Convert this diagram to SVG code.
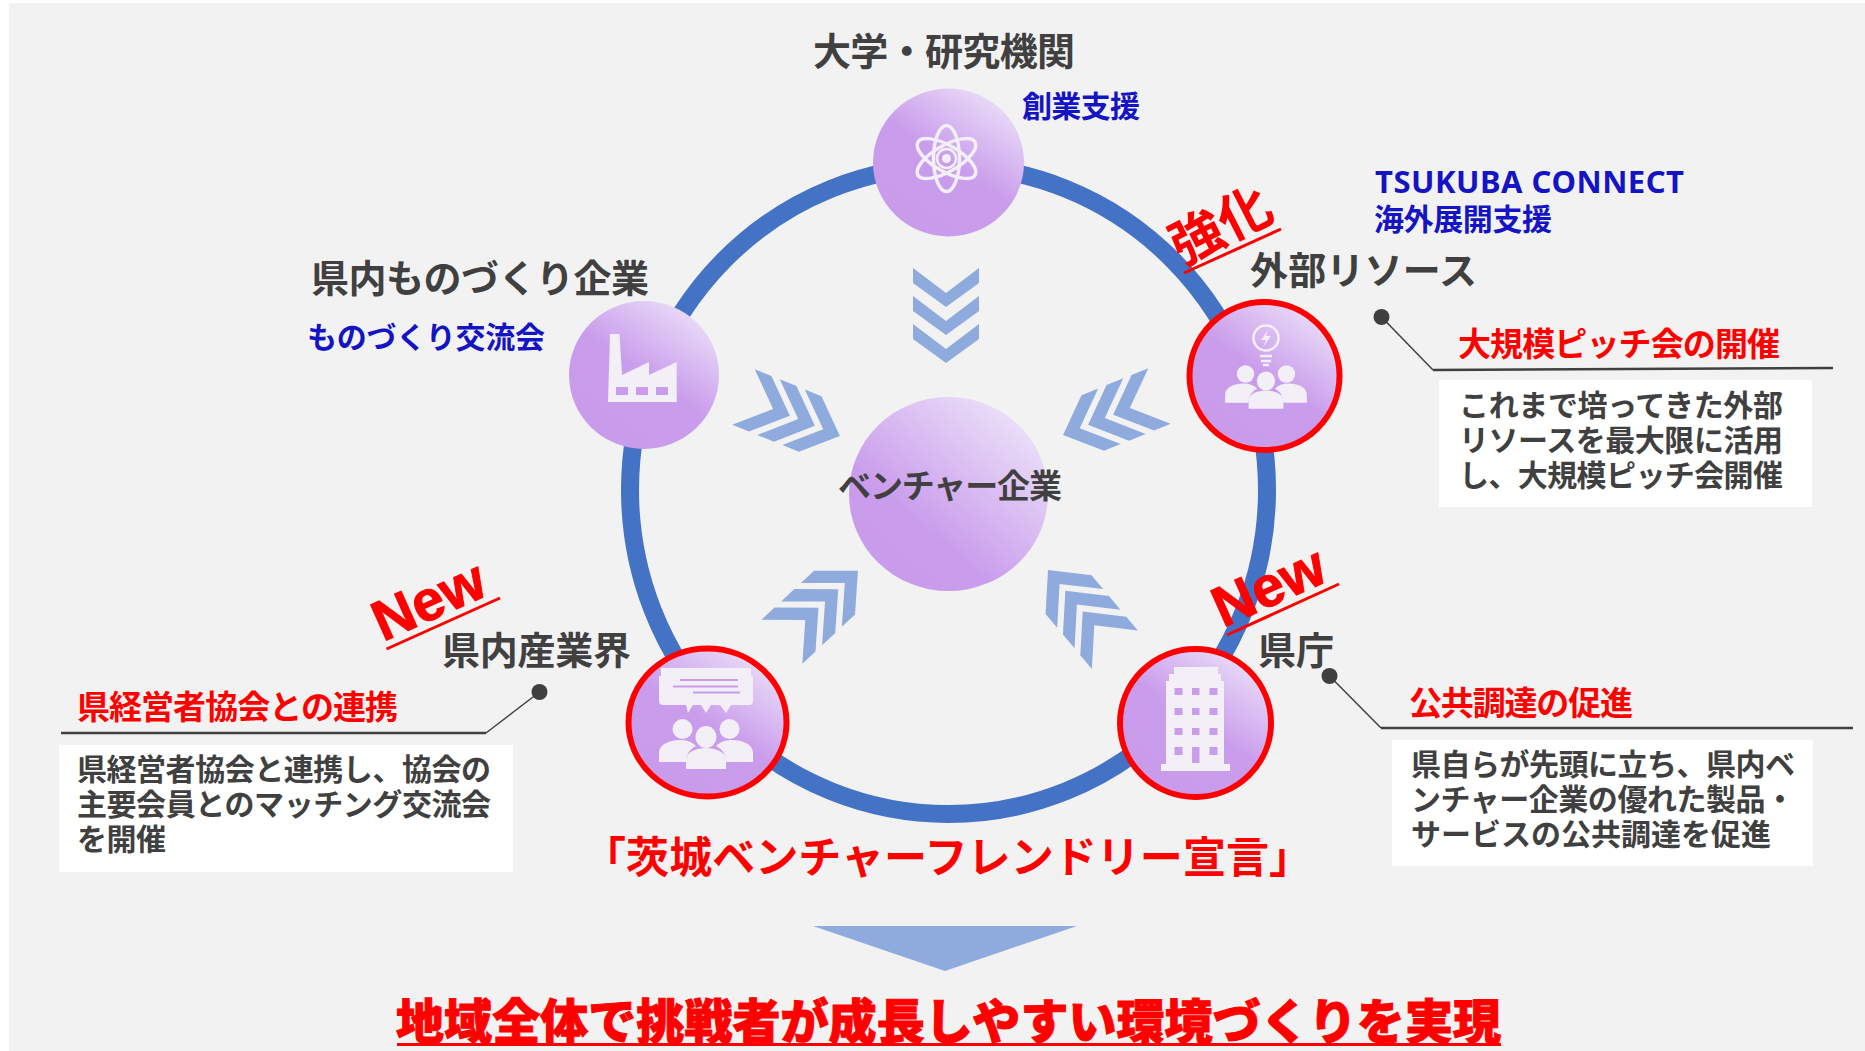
<svg xmlns="http://www.w3.org/2000/svg" xmlns:xlink="http://www.w3.org/1999/xlink" width="1865" height="1051" viewBox="0 0 1865 1051">
<style>
text{font-family:"Noto Sans CJK JP","Noto Sans",sans-serif;font-weight:700}
.dk{fill:#404040}
.bl{fill:#1414C4}
.rd{fill:#FF0000}
.h37{font-size:38px}
.b29{font-size:30px;fill:#404040}
.t32{font-size:33px;fill:#FF0000}
.s29{font-size:30px;fill:#1414C4}
.lead{fill:none;stroke:#404040}
.ico{fill:#F3EFF6}
.win{fill:#C99DEB}
.ul{stroke:#FF0000;stroke-width:3;fill:none}
.tag{fill:#FF0000;stroke:#FF0000;stroke-width:1;font-family:"Liberation Sans",sans-serif;font-weight:700;font-size:57px}
.red{fill:none;stroke:#FF0000;stroke-width:6}
</style>
<defs>
<linearGradient id="g" x1="0.88" y1="0.08" x2="0.3" y2="0.9">
<stop offset="0" stop-color="#EBDFF8"/><stop offset="0.55" stop-color="#CA9DEC"/><stop offset="1" stop-color="#C99CEB"/>
</linearGradient>
<linearGradient id="gc" x1="0.9" y1="0.1" x2="0.25" y2="0.85">
<stop offset="0" stop-color="#EDE3F9"/><stop offset="0.78" stop-color="#CA9DEC"/><stop offset="1" stop-color="#C99CEB"/>
</linearGradient>
<g id="chev" fill="#8FAADC">
<path d="M-33-47 0-22 33-47V-32L0-8-33-32Z"/>
<path d="M-33-19 0 6 33-19V-4L0 20-33-4Z"/>
<path d="M-33 9 0 34 33 9V24L0 48-33 24Z"/>
</g>
<g id="chev2" fill="#8FAADC">
<path d="M-30-48 0-16 30-48V-30L0 2-30-30Z"/>
<path d="M-30-21 0 11 30-21V-3L0 29-30-3Z"/>
<path d="M-30 6 0 38 30 6V24L0 56-30 24Z"/>
</g>
<g id="people" class="ico">
<ellipse cx="-23.500" cy="0" rx="10" ry="10"/>
<ellipse cx="23.500" cy="0" rx="10" ry="10"/>
<ellipse cx="0" cy="8" rx="10.500" ry="11"/>
<path d="M-47 33V24C-47 15-36 11-26 11-19 11-14 13-10 17-16 20-20 25-20 33Z"/>
<path d="M47 33V24C47 15 36 11 26 11 19 11 14 13 10 17 16 20 20 25 20 33Z"/>
<path d="M-20 40V31C-20 23-10 19 0 19 10 19 20 23 20 31V40Z"/>
</g>
</defs>
<rect x="0" y="0" width="1865" height="1051" fill="#FFFFFF"/>
<rect x="9" y="3" width="1856" height="1048" fill="#F2F2F2"/>

<g id="connectors">
<ellipse id="ring" cx="948.500" cy="490" rx="318.500" ry="324" fill="none" stroke="#4472C4" stroke-width="18"/>
<circle cx="1381.500" cy="317" r="8" fill="#404040"/>
<path class="lead" stroke-width="1.500" d="M1381.500 317 1433 370"/>
<path class="lead" stroke-width="2.500" d="M1433 370 1833 368"/>
<circle cx="539.500" cy="692" r="8" fill="#404040"/>
<path class="lead" stroke-width="1.500" d="M539.500 692 486 733"/>
<path class="lead" stroke-width="2.500" d="M486 733H61"/>
<circle cx="1329.500" cy="676" r="8" fill="#404040"/>
<path class="lead" stroke-width="1.500" d="M1329.500 676 1381 728"/>
<path class="lead" stroke-width="2.500" d="M1381 728H1853"/>
</g>

<g id="chevrons">
<use xlink:href="#chev" href="#chev" transform="translate(946,315)"/>
<use xlink:href="#chev2" href="#chev2" transform="translate(788,415) rotate(-68)"/>
<use xlink:href="#chev2" href="#chev2" transform="translate(1115,414) rotate(68)"/>
<use xlink:href="#chev2" href="#chev2" transform="translate(817,609) rotate(-133)"/>
<use xlink:href="#chev2" href="#chev2" transform="translate(1084,613) rotate(140)"/>
</g>

<g id="node-center">
<ellipse cx="948.500" cy="494" rx="99.500" ry="97" fill="url(#gc)"/>
<text class="dk" x="838" y="498" font-size="33" textLength="224">ベンチャー企業</text>
</g>

<g id="node-university">
<ellipse cx="948.500" cy="162.500" rx="75.500" ry="74" fill="url(#g)"/>
<g fill="none" stroke="#F3EFF6" stroke-width="3.500">
<ellipse cx="946.500" cy="158.500" rx="13" ry="33"/>
<ellipse cx="946.500" cy="158.500" rx="13" ry="33" transform="rotate(60 946.500 158.500)"/>
<ellipse cx="946.500" cy="158.500" rx="13" ry="33" transform="rotate(-60 946.500 158.500)"/>
<circle cx="946.500" cy="158.500" r="9.500" stroke-width="2.500"/>
</g>
<circle cx="946.500" cy="158.500" r="4.500" fill="#F3EFF6"/>
<text class="dk h37" x="813" y="65" textLength="262">大学・研究機関</text>
<text class="s29" x="1022" y="117" textLength="118">創業支援</text>
</g>

<g id="node-manufacturing">
<ellipse cx="644" cy="375" rx="75" ry="74" fill="url(#g)"/>
<path class="ico" d="M610 334H619.500L622 375 649 362V375L676.700 362V402H608Z"/>
<path class="win" d="M616 387h12v8h-12zM636 387h12v8h-12zM656 387h12v8h-12z"/>
<text class="dk h37" x="311" y="292" textLength="338">県内ものづくり企業</text>
<text class="s29" x="307" y="348" textLength="238">ものづくり交流会</text>
</g>

<g id="node-external">
<ellipse cx="1264.500" cy="376" rx="75" ry="74" fill="url(#g)"/>
<ellipse class="red" cx="1264.500" cy="376" rx="75" ry="74"/>
<ellipse cx="1266" cy="338" rx="12.500" ry="12.500" fill="none" stroke="#F3EFF6" stroke-width="2.500"/>
<path class="ico" d="M1268 330 1261 340H1266L1263 347 1271 336H1266Z"/>
<path d="M1260 356H1272M1261 361H1271M1263 365H1269" stroke="#F3EFF6" stroke-width="2.500" fill="none"/>
<use xlink:href="#people" href="#people" transform="translate(1266,374) scale(.87)"/>
<text class="dk h37" x="1250" y="284" textLength="227">外部リソース</text>
<text class="bl" style="font-family:'Noto Sans',sans-serif" x="1375" y="193" font-size="31" textLength="309">TSUKUBA CONNECT</text>
<text class="s29" x="1374" y="230" textLength="178">海外展開支援</text>
</g>

<g id="node-industry">
<ellipse cx="707.500" cy="722.500" rx="79" ry="74" fill="url(#g)"/>
<ellipse class="red" cx="707.500" cy="722.500" rx="79" ry="74"/>
<path class="ico" d="M661 668H751V676H753V701Q753 705 749 705H731L726 713 720 705H711L706 713 701 705H693L688 713 686 705H663Q659 705 659 701V676H661Z"/>
<path d="M680 680H738M673 686.500H738M693 692.500H740" stroke="#C99DEB" stroke-width="2" fill="none"/>
<use xlink:href="#people" href="#people" transform="translate(706,729)"/>
<text class="dk h37" x="442" y="664" textLength="189">県内産業界</text>
</g>

<g id="node-prefecture">
<ellipse cx="1195.500" cy="723" rx="75.500" ry="74" fill="url(#g)"/>
<ellipse class="red" cx="1195.500" cy="723" rx="75.500" ry="74"/>
<path class="ico" d="M1174 667H1218V674H1221V681H1224V764H1230V771H1161V764H1166V681H1169V674H1174Z"/>
<path class="win" d="M1174.500 688h8v7h-8zM1192 688h7.500v7h-7.500zM1209.500 688h8v7h-8zM1174.500 708h8v7h-8zM1192 708h7.500v7h-7.500zM1209.500 708h8v7h-8zM1174.500 728h8v7h-8zM1192 728h7.500v7h-7.500zM1209.500 728h8v7h-8zM1174.500 747h8v8h-8zM1192 747h7.500v16h-7.500zM1209.500 747h8v8h-8z"/>
<text class="dk h37" x="1258" y="664" textLength="76">県庁</text>
</g>

<g id="callout-external">
<rect x="1439" y="380" width="373" height="127" fill="#FFFFFF"/>
<text class="t32" x="1458" y="356" textLength="322">大規模ピッチ会の開催</text>
<text class="b29" x="1459" y="416" textLength="324">これまで培ってきた外部</text>
<text class="b29" x="1459" y="451" textLength="324">リソースを最大限に活用</text>
<text class="b29" x="1459" y="486" textLength="324">し、大規模ピッチ会開催</text>
</g>

<g id="callout-industry">
<rect x="59" y="745" width="454" height="127" fill="#FFFFFF"/>
<text class="t32" x="77" y="719" textLength="321">県経営者協会との連携</text>
<text class="b29" x="77" y="780" textLength="414">県経営者協会と連携し、協会の</text>
<text class="b29" x="77" y="815" textLength="414">主要会員とのマッチング交流会</text>
<text class="b29" x="77" y="850" textLength="89">を開催</text>
</g>

<g id="callout-prefecture">
<rect x="1392" y="740" width="421" height="126" fill="#FFFFFF"/>
<text class="t32" x="1409" y="715" textLength="224">公共調達の促進</text>
<text class="b29" x="1411" y="775" textLength="384">県自らが先頭に立ち、県内ベ</text>
<text class="b29" x="1411" y="810" textLength="384">ンチャー企業の優れた製品・</text>
<text class="b29" x="1411" y="845" textLength="360">サービスの公共調達を促進</text>
</g>

<g id="badges">
<text class="rd" font-size="53" transform="translate(1182,266) rotate(-27)">強化</text>
<path class="ul" d="M1184 273 1281 229"/>
<text class="tag" transform="translate(383,642) rotate(-24)">New</text>
<path class="ul" d="M386.500 649 500 598"/>
<text class="tag" transform="translate(1223,628) rotate(-24)">New</text>
<path class="ul" d="M1227 635 1339 584"/>
</g>

<g id="declaration">
<text class="rd" x="583" y="873" font-size="43" textLength="729">「茨城ベンチャーフレンドリー宣言」</text>
<path d="M813 926H1077L945 971Z" fill="#8FAADC"/>
<text class="rd" x="396" y="1039" font-size="48" stroke="#FF0000" stroke-width="1" style="font-weight:900" textLength="1105">地域全体で挑戦者が成長しやすい環境づくりを実現</text>
<rect x="397" y="1043" width="1104" height="3" fill="#FF0000"/>
</g>
</svg>
